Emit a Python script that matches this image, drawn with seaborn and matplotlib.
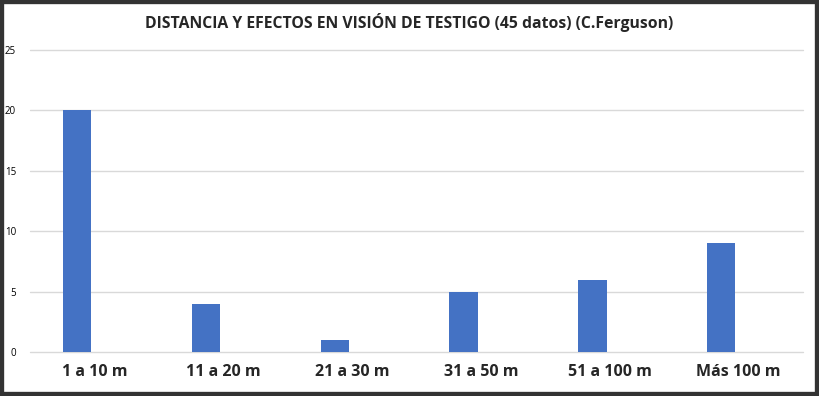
import numpy as np
import pandas as pd
import seaborn as sns
import matplotlib.pyplot as plt
from matplotlib.patches import Rectangle

categories = ["1 a 10 m", "11 a 20 m", "21 a 30 m", "31 a 50 m", "51 a 100 m", "Más 100 m"]
testigos = [20, 4, 1, 5, 6, 9]
vacia = [0, 0, 0, 0, 0, 0]  # second empty series, as in the original sheet
y_ticks = [0, 5, 10, 15, 20, 25]
title = "DISTANCIA Y EFECTOS EN VISIÓN DE TESTIGO (45 datos) (C.Ferguson)"

df = pd.DataFrame({
    "cat": categories * 2,
    "val": testigos + vacia,
    "serie": ["a"] * len(categories) + ["b"] * len(categories),
})

sns.set_style("white")
plt.rcParams['font.family'] = ['Open Sans', 'DejaVu Sans']

fig = plt.figure(figsize=(8.19, 3.96), dpi=100)
ax = fig.add_axes([30 / 819, 1 - 352 / 396, (803 - 30) / 819, (352 - 50) / 396])

sns.barplot(data=df, x="cat", y="val", hue="serie", palette=["#4472C4", "#ED7D31"],
            width=0.44, legend=False, ax=ax, errorbar=None, saturation=1, linewidth=0)
# small nudge to the left, like Excel's spacing
for p in ax.patches:
    p.set_x(p.get_x() - 0.025)

ax.set_ylim(0, 25)
ax.set_xlim(-0.5, 5.5)
ax.set_yticks(y_ticks)
ax.yaxis.grid(True, color="#d9d9d9", linewidth=1)
for gl in ax.get_ygridlines():
    gl.set_clip_on(False)
ax.set_axisbelow(True)
for s in ax.spines.values():
    s.set_visible(False)
ax.tick_params(axis="y", length=0, labelsize=7, pad=10, labelcolor="#000000")
ax.tick_params(axis="x", length=0, labelsize=11.5, pad=9)
for lbl in ax.get_xticklabels():
    lbl.set_fontweight("bold")
ax.set_xlabel("")
ax.set_ylabel("")

fig.text(0.5, 1 - 22 / 396, title, ha="center", va="center", fontsize=11.3, fontweight="bold")

# dark frame around the chart
fig.patches.append(Rectangle((0, 0), 1, 1, transform=fig.transFigure, fill=False,
                             edgecolor="#333333", linewidth=6, zorder=10))

fig.savefig("out.png", dpi=100, facecolor="white")
